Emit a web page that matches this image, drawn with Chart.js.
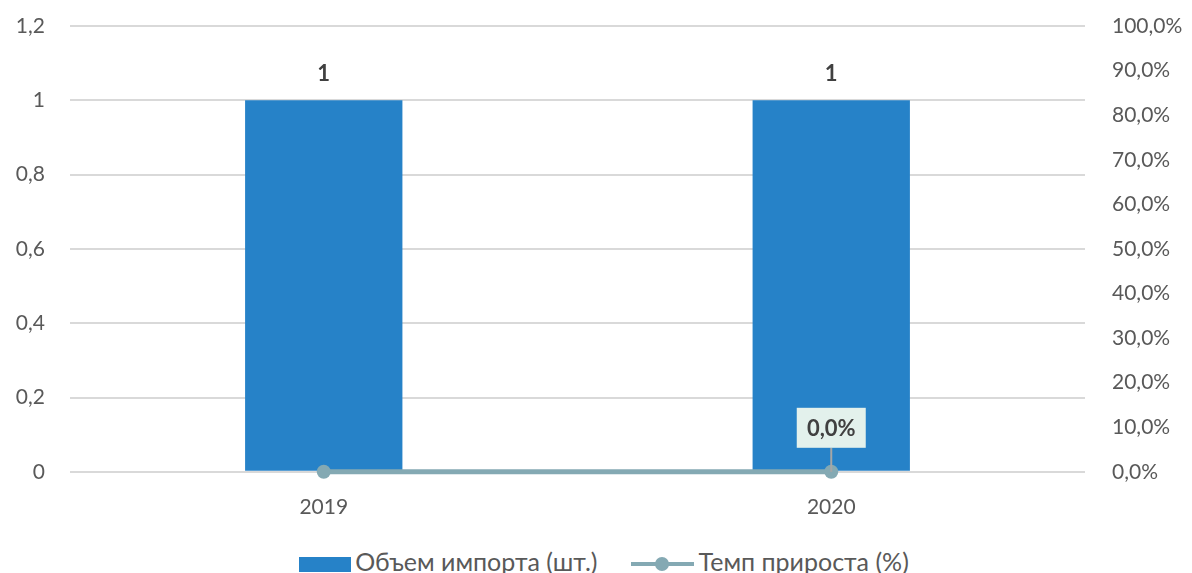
<!DOCTYPE html>
<html>
<head>
<meta charset="utf-8">
<script src="https://cdn.jsdelivr.net/npm/chart.js@4/dist/chart.umd.min.js"></script>
<style>
  body { margin: 0; background: #fff; }
  #wrap { position: relative; width: 1192px; height: 573px; overflow: hidden; }
  #legend { position: absolute; left: 8px; top: 542px; width: 1192px; text-align: center;
            font-family: Lato, sans-serif; font-size: 25px; color: #595959; white-space: nowrap; line-height: 30px; }
  .legend-item { display: inline-block; vertical-align: middle; margin: 0 17px; }
  .swatch { display: inline-block; vertical-align: middle; }
</style>
</head>
<body>
<div id="wrap">
  <canvas id="importChart" width="1192" height="535"></canvas>
  <div id="legend"></div>
</div>
<script>
const years = ['2019', '2020'];
const importVolume = [1, 1];
const growthRate = [0, 0];
const growthLabels = ['', '0,0%'];

const barColor = '#2682C8';
const lineColor = '#84A9B3';
const textColor = '#595959';
const tickFont = { family: 'Lato, sans-serif', size: 21 };

// labels over the bars and the boxed label on the line
const labelPlugin = {
    id: 'labels',
    afterDatasetsDraw(chart) {
        const ctx = chart.ctx;
        ctx.save();
        ctx.font = 'bold 22px Lato, sans-serif';
        ctx.textAlign = 'center';
        ctx.textBaseline = 'middle';

        chart.getDatasetMeta(0).data.forEach((bar, i) => {
            ctx.fillStyle = '#404040';
            ctx.fillText(String(importVolume[i]), bar.x, bar.y - 26);
        });

        chart.getDatasetMeta(1).data.forEach((pt, i) => {
            const txt = growthLabels[i];
            if (!txt) return;
            const cy = pt.y - 44;
            const w = 69, h = 40;
            ctx.strokeStyle = '#A6A6A6';
            ctx.lineWidth = 2;
            ctx.beginPath();
            ctx.moveTo(pt.x, cy + h / 2);
            ctx.lineTo(pt.x, pt.y);
            ctx.stroke();
            ctx.fillStyle = '#E3F1EC';
            ctx.fillRect(pt.x - w / 2, cy - h / 2, w, h);
            ctx.fillStyle = '#404040';
            ctx.fillText(txt, pt.x, cy + 1);
        });
        ctx.restore();
    }
};

// vertical axes: fixed width, no extra label padding top/bottom
function fitAxis(width) {
    return function(scale) {
        scale.width = width;
        scale.paddingTop = 0;
        scale.paddingBottom = 0;
    };
}

const ctx = document.getElementById('importChart').getContext('2d');
const chart = new Chart(ctx, {
    type: 'bar',
    data: {
        labels: years,
        datasets: [{
            label: 'Объем импорта (шт.)',
            data: importVolume,
            backgroundColor: barColor,
            barPercentage: 0.31,
            categoryPercentage: 1,
            yAxisID: 'y',
            order: 1
        }, {
            type: 'line',
            label: 'Темп прироста (%)',
            data: growthRate,
            borderColor: lineColor,
            backgroundColor: lineColor,
            borderWidth: 5,
            pointRadius: 7,
            pointBackgroundColor: lineColor,
            pointBorderWidth: 0,
            clip: false,
            yAxisID: 'y1',
            order: 0
        }]
    },
    options: {
        responsive: false,
        animation: false,
        layout: { padding: { top: 26, bottom: 0, left: 0, right: 0 } },
        plugins: {
            legend: { display: false },
            tooltip: { enabled: false }
        },
        scales: {
            x: {
                grid: { display: false },
                border: { display: false },
                ticks: { color: textColor, font: tickFont, padding: 15 }
            },
            y: {
                position: 'left',
                min: 0,
                max: 1.2,
                ticks: {
                    stepSize: 0.2,
                    color: textColor,
                    padding: 25,
                    font: tickFont,
                    callback: v => String(Math.round(v * 10) / 10).replace('.', ',')
                },
                grid: { color: '#D9D9D9', lineWidth: 2, drawTicks: false },
                border: { display: false },
                afterFit: fitAxis(70)
            },
            y1: {
                position: 'right',
                min: 0,
                max: 1,
                ticks: {
                    stepSize: 0.1,
                    color: textColor,
                    padding: 27,
                    font: tickFont,
                    callback: v => (v * 100).toFixed(1).replace('.', ',') + '%'
                },
                grid: { display: false, drawTicks: false },
                border: { display: false },
                afterFit: fitAxis(107)
            }
        }
    },
    plugins: [labelPlugin]
});

// legend below the chart
const legendContainer = document.getElementById('legend');
chart.data.datasets.forEach((ds, i) => {
    const item = document.createElement('span');
    item.className = 'legend-item';
    const sw = document.createElement('span');
    sw.className = 'swatch';
    if (i === 0) {
        sw.style.cssText = 'width:52px;height:15px;background:' + barColor + ';margin-right:4px;';
    } else {
        sw.style.cssText = 'width:63px;height:14px;margin-right:4px;position:relative;';
        sw.innerHTML = '<span style="position:absolute;left:0;top:5px;width:63px;height:4px;background:' + lineColor + '"></span>' +
            '<span style="position:absolute;left:24px;top:0;width:14px;height:14px;border-radius:50%;background:' + lineColor + '"></span>';
    }
    item.appendChild(sw);
    item.appendChild(document.createTextNode(ds.label));
    legendContainer.appendChild(item);
});
</script>
</body>
</html>
